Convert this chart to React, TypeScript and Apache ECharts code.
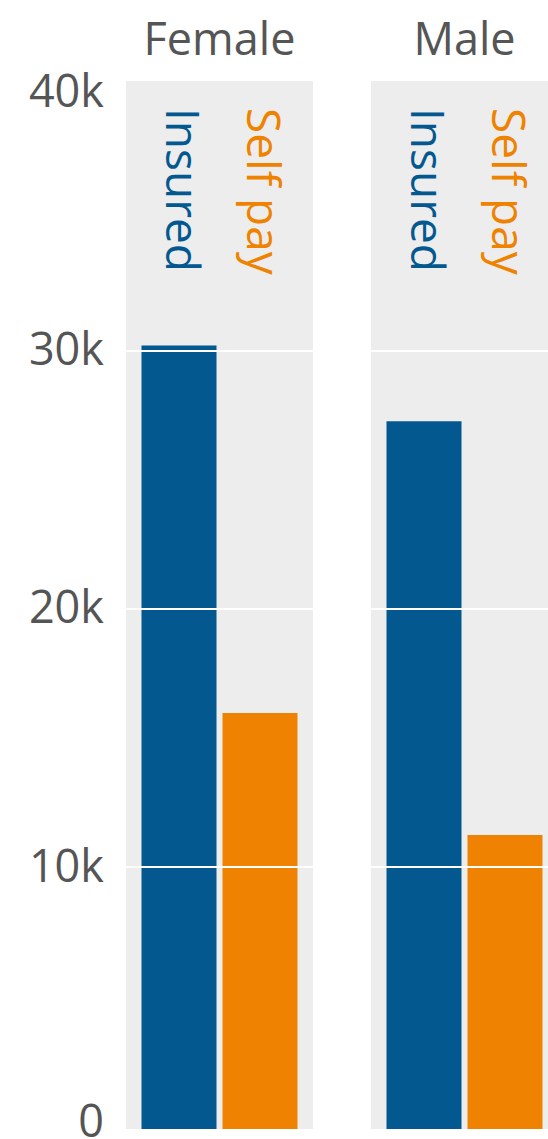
import React, { useEffect, useRef } from "react";
import * as echarts from "echarts";

const panels = ["Female", "Male"];
const seriesNames = ["Insured", "Self pay"];
const insuredValues = [30200, 27270];
const selfPayValues = [15970, 11250];
const tickValues = [0, 10000, 20000, 30000, 40000];
const gridValues = [10000, 20000, 30000];

const COLORS = ["#03598f", "#ef8200"];
const PANEL_BG = "#ededed";
const TEXT = "#555555";
const FONT = "'Open Sans', sans-serif";

export default function App() {
  const ref = useRef<HTMLDivElement>(null);
  useEffect(() => {
    if (!ref.current) return;
    const chart = echarts.init(ref.current, null, { renderer: "svg" });
    const lefts = [126, 371];
    const valueSets = [insuredValues, selfPayValues];
    const grids = panels.map((_, i) => ({
      left: lefts[i],
      top: 81,
      width: 187,
      height: 1048,
      show: true,
      backgroundColor: PANEL_BG,
      borderWidth: 0,
      containLabel: false,
      outerBoundsMode: "none",
    }));
    const xAxes = panels.map((p, i) => ({
      type: "category",
      gridIndex: i,
      data: [p],
      position: "top",
      axisLine: { show: false },
      axisTick: { show: false },
      axisLabel: {
        show: true,
        fontSize: 45,
        color: TEXT,
        fontFamily: FONT,
        margin: 21,
      },
    }));
    const yAxes = panels.map((_, i) => ({
      type: "value",
      gridIndex: i,
      min: -135,
      max: 40438,
      startValue: -135,
      axisLine: { show: false },
      axisTick: { show: false },
      splitLine: { show: false },
      axisLabel: {
        show: i === 0,
        customValues: tickValues,
        fontSize: 45,
        color: TEXT,
        fontFamily: FONT,
        margin: 22,
        verticalAlign: "bottom",
        lineHeight: 6,
        rich: {
          z: { fontSize: 45, color: TEXT, fontFamily: FONT, lineHeight: 13 },
        },
        formatter: (v: number) => (v === 0 ? "{z|0}" : v / 1000 + "k"),
      },
    }));
    const series: any[] = [];
    panels.forEach((p, pi) => {
      seriesNames.forEach((name, si) => {
        series.push({
          type: "bar",
          name,
          xAxisIndex: pi,
          yAxisIndex: pi,
          data: [valueSets[si][pi]],
          barWidth: 75,
          barGap: "8%",
          itemStyle: { color: COLORS[si] },
          silent: true,
          markLine:
            si === 1
              ? {
                  silent: true,
                  symbol: "none",
                  z: 5,
                  label: { show: false },
                  lineStyle: { color: "#ffffff", width: 2, type: "solid" },
                  emphasis: { disabled: true },
                  data: gridValues.map((v) => ({ yAxis: v })),
                }
              : undefined,
        });
      });
    });
    chart.setOption({
      animation: false,
      grid: grids,
      xAxis: xAxes,
      yAxis: yAxes,
      series,
    });
    // Series-name labels rotated, placed above each bar
    const model = (chart as any).getModel();
    const graphics: any[] = [];
    series.forEach((s, idx) => {
      const sm = model.getSeriesByIndex(idx);
      const lay = sm.getData().getItemLayout(0);
      const si = seriesNames.indexOf(s.name);
      graphics.push({
        type: "text",
        x: lay.x + lay.width / 2 + 5,
        y: 108,
        rotation: -Math.PI / 2,
        silent: true,
        style: {
          text: s.name,
          fill: COLORS[si],
          font: `46px ${FONT}`,
          align: "left",
          verticalAlign: "middle",
        },
      });
    });
    chart.setOption({ graphic: graphics });
    return () => chart.dispose();
  }, []);
  return (
    <div
      ref={ref}
      style={{ position: "absolute", left: 0, top: 0, width: 548, height: 1139 }}
    />
  );
}
